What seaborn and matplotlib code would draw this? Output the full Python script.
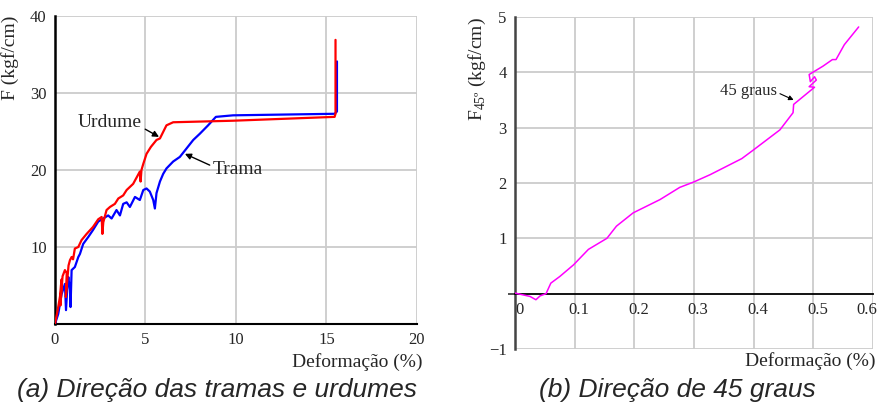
import matplotlib
matplotlib.use("Agg")
import matplotlib.pyplot as plt
import matplotlib.transforms as mtransforms
import seaborn as sns
import pandas as pd

# ---- data ----
urdume_x = [0, 0.15, 0.28, 0.33, 0.37, 0.30, 0.42, 0.55, 0.65, 0.60, 0.75, 0.83, 0.92, 1.0, 1.1, 1.29,
            1.47, 1.75, 2.1, 2.39, 2.58, 2.62, 2.67, 2.85, 3.04, 3.31, 3.5, 3.77, 3.96, 4.32, 4.69, 4.73,
            4.78, 4.88, 5.06, 5.3, 5.61, 5.8, 6.16, 6.53, 9.84, 15.45, 15.5, 15.5]
urdume_y = [0, 1.8, 3.6, 5.0, 5.8, 2.4, 6.2, 7.0, 6.6, 3.5, 7.6, 8.3, 8.7, 8.4, 9.8, 10.0,
            10.9, 11.7, 12.6, 13.6, 13.9, 11.7, 13.2, 14.8, 15.2, 15.6, 16.3, 16.7, 17.4, 18.2, 19.8, 18.5,
            20.0, 20.8, 22.1, 23.0, 23.9, 24.1, 25.8, 26.2, 26.4, 26.9, 27.3, 36.9]

trama_x = [0, 0.18, 0.37, 0.55, 0.61, 0.70, 0.74, 0.83, 0.86, 0.92, 1.1, 1.29, 1.38, 1.56, 1.84, 2.1,
           2.39, 2.67, 2.94, 3.13, 3.4, 3.59, 3.77, 3.96, 4.14, 4.42, 4.69, 4.88, 5.06, 5.24, 5.43,
           5.52, 5.61, 5.8, 5.98, 6.16, 6.53, 6.9, 7.27, 7.64, 8.0, 8.46, 8.89, 9.84, 15.45, 15.58, 15.58]
trama_y = [0, 1.3, 3.9, 5.2, 1.8, 5.5, 6.1, 4.4, 2.2, 7.0, 7.4, 8.7, 9.1, 10.4, 11.3, 12.2,
           13.3, 13.7, 14.1, 13.7, 14.8, 14.1, 15.6, 15.8, 15.2, 16.5, 16.1, 17.4, 17.6, 17.2, 16.1,
           15.0, 17.0, 18.5, 19.5, 20.2, 21.1, 21.7, 22.8, 23.9, 24.7, 25.8, 26.9, 27.1, 27.3, 27.6, 34.1]

g45_x = [0, 0.025, 0.035, 0.042, 0.052, 0.06, 0.075, 0.098, 0.123, 0.154, 0.17, 0.198, 0.243,
         0.276, 0.3, 0.327, 0.38, 0.4, 0.444, 0.466, 0.467, 0.502, 0.493, 0.505, 0.502, 0.495,
         0.493, 0.516, 0.532, 0.538, 0.552, 0.576]
g45_y = [0.01, -0.05, -0.11, -0.04, 0.0, 0.19, 0.31, 0.52, 0.8, 1.0, 1.22, 1.46, 1.7,
         1.92, 2.02, 2.15, 2.44, 2.6, 2.96, 3.27, 3.42, 3.73, 3.74, 3.86, 3.92, 3.83,
         3.96, 4.11, 4.23, 4.23, 4.5, 4.82]

left_xticks = [0, 5, 10, 15, 20]
left_yticks = [10, 20, 30, 40]
right_xticks = [0, 0.1, 0.2, 0.3, 0.4, 0.5, 0.6]
right_xticklabels = ['0', '0.1', '0.2', '0.3', '0.4', '0.5', '0.6']
right_yticks = [-1, 1, 2, 3, 4, 5]

sns.set_style("white")
plt.rcParams['font.family'] = ['Liberation Serif', 'DejaVu Serif']
plt.rcParams['mathtext.fontset'] = 'custom'
plt.rcParams['mathtext.rm'] = 'Liberation Serif'

fig = plt.figure(figsize=(8.78, 4.05), dpi=100)
axL = fig.add_axes([0.0626, 0.2, 0.4123, 0.7605])
axR = fig.add_axes([0.5866, 0.1383, 0.4077, 0.8198])

grid_c = '#cccccc'
fs = 12
lfs = 14

# ---- left panel ----
dfu = pd.DataFrame({'x': urdume_x, 'y': urdume_y})
dft = pd.DataFrame({'x': trama_x, 'y': trama_y})
sns.lineplot(data=dft, x='x', y='y', sort=False, estimator=None, color='#0000ff', lw=1.6, ax=axL, zorder=3)
sns.lineplot(data=dfu, x='x', y='y', sort=False, estimator=None, color='#ff0000', lw=1.6, ax=axL, zorder=4)
axL.set_xlim(0, 20)
axL.set_ylim(0, 40)
axL.set_xticks(left_xticks)
axL.set_yticks(left_yticks)
axL.grid(True, color=grid_c, lw=1.3)
axL.set_axisbelow(True)
for s in ['top', 'right']:
    axL.spines[s].set_visible(False)
axL.spines['left'].set_color('black'); axL.spines['left'].set_linewidth(1.8)
axL.spines['bottom'].set_color('black'); axL.spines['bottom'].set_linewidth(1.5)
axL.tick_params(axis='both', direction='out', length=5, width=1.2, color='black',
                labelsize=fs, pad=1)
axL.set_xlabel('Deformação (%)', fontsize=lfs, loc='right')
axL.xaxis.set_label_coords(1.015, -0.095)
axL.set_ylabel('F (kgf/cm)', fontsize=lfs, loc='top')
axL.yaxis.set_label_coords(-0.1, 1.0)
axL.annotate('Urdume', xy=(5.75, 24.3), xytext=(1.27, 26.2), fontsize=lfs, va='center',
             arrowprops=dict(arrowstyle='-|>', color='black', lw=1, mutation_scale=9, shrinkA=0, shrinkB=0,
                             relpos=(1.0, 0.2)))
axL.annotate('Trama', xy=(7.18, 22.1), xytext=(8.73, 20.0), fontsize=lfs, va='center',
             arrowprops=dict(arrowstyle='-|>', color='black', lw=1, mutation_scale=9, shrinkA=0, shrinkB=0,
                             relpos=(0.0, 0.7)))

# ---- right panel ----
dfg = pd.DataFrame({'x': g45_x, 'y': g45_y})
sns.lineplot(data=dfg, x='x', y='y', sort=False, estimator=None, color='#ff00ff', lw=1.1, ax=axR, zorder=3)
axR.set_xlim(0, 0.6)
axR.set_ylim(-1, 5)
axR.set_xticks(right_xticks)
axR.set_xticklabels(right_xticklabels)
axR.set_yticks(right_yticks)
axR.set_yticks([0], minor=True)
axR.grid(True, color=grid_c, lw=1.3)
axR.set_axisbelow(True)
for s in ['top', 'right']:
    axR.spines[s].set_visible(False)
axR.spines['bottom'].set_position(('data', 0))
axR.spines['bottom'].set_color('black'); axR.spines['bottom'].set_linewidth(1.3)
axR.spines['left'].set_color('#444444'); axR.spines['left'].set_linewidth(1.8)
axR.tick_params(axis='both', direction='out', length=5, width=1.2, color='#333333',
                labelsize=fs, pad=1)
axR.tick_params(axis='y', which='minor', length=5, width=1.2, color='#333333', left=True)
offset = mtransforms.ScaledTranslation(4 / 100, 0, fig.dpi_scale_trans)
labs = axR.get_xticklabels()
for lab in labs[:-1]:
    lab.set_transform(lab.get_transform() + offset)
labs[-1].set_horizontalalignment('right')
labs[-1].set_transform(labs[-1].get_transform() + mtransforms.ScaledTranslation(4 / 100, 0, fig.dpi_scale_trans))
axR.set_xlabel('Deformação (%)', fontsize=lfs, loc='right')
axR.xaxis.set_label_coords(1.008, -0.01)
axR.set_ylabel(r'F$_{45\mathrm{º}}$ (kgf/cm)', fontsize=lfs, loc='top')
axR.yaxis.set_label_coords(-0.075, 1.0)
axR.annotate('45 graus', xy=(0.467, 3.5), xytext=(0.343, 3.67), fontsize=fs, va='center',
             arrowprops=dict(arrowstyle='-|>', color='black', lw=0.8, mutation_scale=7, shrinkA=0, shrinkB=0,
                             relpos=(1.0, 0.4)))

# ---- captions ----
fig.text(0.247, 0.037, '(a) Direção das tramas e urdumes', fontsize=19, style='italic',
         family=['Liberation Sans', 'DejaVu Sans'], ha='center', va='center')
fig.text(0.772, 0.037, '(b) Direção de 45 graus', fontsize=19, style='italic',
         family=['Liberation Sans', 'DejaVu Sans'], ha='center', va='center')

fig.savefig('out.png', dpi=100)
